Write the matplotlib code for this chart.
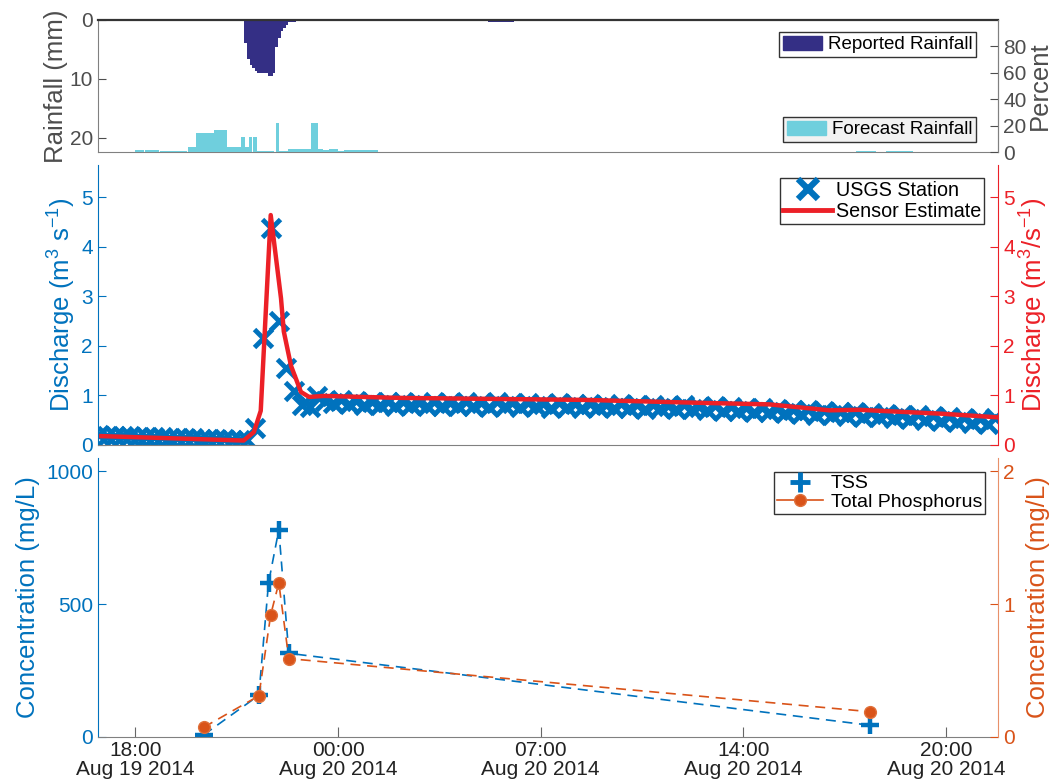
import numpy as np
import matplotlib
matplotlib.use('Agg')
import matplotlib.pyplot as plt
from matplotlib.lines import Line2D
from matplotlib.patches import Patch

plt.rcParams['font.family'] = ['Liberation Sans', 'DejaVu Sans']
plt.rcParams['mathtext.default'] = 'regular'

# time is in hours since Aug 19 2014 00:00
tick_hours = [18, 24.5, 31, 37.5, 44]
tick_times = ['18:00', '00:00', '07:00', '14:00', '20:00']
tick_dates = ['Aug 19 2014', 'Aug 20 2014', 'Aug 20 2014', 'Aug 20 2014', 'Aug 20 2014']

# reported rainfall (mm per 5 min), two events
rep_start1 = 21.41
rep_mm1 = [0.1, 3.96, 6.7, 7.65, 8.2, 8.6, 8.96, 8.96, 8.96, 8.96, 9.5, 9.5,
           8.96, 4.65, 3.0, 1.8, 1.4, 0.85, 0.4, 0.4, 0.4]
rep_start2 = 29.23
rep_mm2 = [0.2, 0.3, 0.3, 0.3, 0.3, 0.3, 0.3, 0.3, 0.3, 0.3, 0.3, 0.2]

# forecast rainfall (percent)
fc_start = [18.00, 18.32, 18.80, 18.91, 19.69, 19.93, 20.14, 20.52, 20.93, 21.22, 21.38,
            21.52, 21.65, 21.78, 21.89, 22.13, 22.50, 22.61, 22.90, 23.63, 23.85, 24.01,
            24.22, 24.49, 24.70, 41.10, 42.07]
fc_end = [18.27, 18.75, 18.91, 19.66, 19.93, 20.14, 20.52, 20.93, 21.22, 21.38, 21.52,
          21.65, 21.75, 21.89, 22.13, 22.45, 22.61, 22.90, 23.63, 23.85, 24.01, 24.22,
          24.49, 24.70, 25.78, 41.75, 42.94]
fc_pct = [1.2, 1.2, 1.0, 0.5, 3.5, 14.4, 14.5, 16.7, 4.0, 4.0, 11.2, 4.0, 11.2, 11.2,
          0.5, 0.5, 21.8, 0.5, 2.3, 21.8, 2.3, 1.8, 2.3, 1.0, 1.8, 0.6, 0.6]

# USGS discharge, 15 min samples starting 16:50
usgs_start = 16.84
usgs_q = [0.20, 0.19, 0.18, 0.19, 0.18, 0.17, 0.17, 0.16, 0.16, 0.15, 0.15, 0.14, 0.14,
          0.13, 0.13, 0.12, 0.12, 0.11, 0.11, 0.10,
          0.35, 2.15, 4.37, 2.50, 1.55, 1.08, 0.80, 0.76, 0.98,
          0.89, 0.84, 0.91, 0.82, 0.88, 0.80, 0.87, 0.81, 0.86, 0.79, 0.87, 0.80, 0.85,
          0.78, 0.86, 0.79, 0.84,
          0.79, 0.86, 0.78, 0.85, 0.77, 0.87, 0.79, 0.84, 0.76, 0.85, 0.78, 0.83, 0.75,
          0.84, 0.77, 0.82, 0.75, 0.83, 0.76, 0.81, 0.74, 0.82, 0.75, 0.80, 0.73, 0.81,
          0.74, 0.79, 0.72, 0.80,
          0.72, 0.77, 0.70, 0.78, 0.69, 0.76, 0.68, 0.75, 0.67, 0.74, 0.66, 0.73, 0.64,
          0.71, 0.63, 0.70, 0.61, 0.69, 0.60, 0.67, 0.59, 0.66, 0.57, 0.65, 0.56,
          0.63, 0.55, 0.61, 0.53, 0.60, 0.51, 0.58, 0.49, 0.56, 0.47, 0.54, 0.45, 0.52,
          0.42, 0.55]

# sensor estimate
sens_t = [16.87, 21.47, 21.80, 22.02, 22.34, 22.67, 22.76, 22.99, 23.31, 23.57, 24.05,
          26.53, 32.41, 36.18, 38.33, 40.26, 41.23, 42.20, 43.90, 45.61]
sens_q = [0.18, 0.09, 0.26, 0.69, 4.64, 2.96, 2.29, 1.60, 1.07, 0.97, 0.99,
          0.95, 0.91, 0.85, 0.82, 0.70, 0.71, 0.68, 0.63, 0.56]

# samples
tss_t = [20.19, 21.96, 22.27, 22.60, 22.92, 41.58]
tss = [8, 157, 580, 780, 315, 44]
tp_t = [20.19, 21.96, 22.34, 22.60, 22.92, 41.58]
tp = [0.073, 0.31, 0.92, 1.16, 0.59, 0.19]

blue = '#0072BD'
red = '#EC2027'
orange = '#D95319'
navy = '#342F85'
cyan = '#6FCFDD'
gray = '#4D4D4D'
xmin, xmax = 16.79, 45.68

W, H = 1052, 780
L, AW = 97.7 / W, 900.6 / W
fig = plt.figure(figsize=(W / 100, H / 100), dpi=100)

# ---- rainfall panel
ax1 = fig.add_axes([L, 1 - 152 / H, AW, 132 / H])
t1 = rep_start1 + np.arange(len(rep_mm1)) / 12
t2 = rep_start2 + np.arange(len(rep_mm2)) / 12
ax1.bar(t1, rep_mm1, width=1 / 12, align='edge', color=navy, linewidth=0)
ax1.bar(t2, rep_mm2, width=1 / 12, align='edge', color=navy, linewidth=0)
ax1.set_xlim(xmin, xmax)
ax1.set_ylim(22.4, 0)
ax1.set_yticks([0, 10, 20])
ax1.set_xticks([])
ax1.tick_params(axis='y', direction='in', length=6, colors=gray, labelsize=15)
ax1.set_ylabel('Rainfall (mm)', color=gray, fontsize=18.5, labelpad=1)
for s in ['left', 'right', 'bottom']:
    ax1.spines[s].set_color('#808080')
ax1.spines['top'].set_color('#333333')
ax1.spines['top'].set_linewidth(1.6)

ax1r = ax1.twinx()
ax1r.bar(fc_start, fc_pct, width=np.array(fc_end) - np.array(fc_start), align='edge',
         color=cyan, linewidth=0)
ax1r.set_ylim(0, 100)
ax1r.set_yticks([0, 20, 40, 60, 80])
ax1r.tick_params(axis='y', direction='in', length=6, colors=gray, labelsize=15)
ax1r.set_ylabel('Percent', color=gray, fontsize=18.5, labelpad=1)
for s in ax1r.spines.values():
    s.set_visible(False)
ax1r.spines['right'].set_visible(True)
ax1r.spines['right'].set_color('#808080')

leg_kw = dict(loc='upper right', fontsize=13.5, fancybox=False, framealpha=1,
              edgecolor='#333333', borderaxespad=0, borderpad=0.2, handletextpad=0.3,
              handlelength=2.1, handleheight=0.8)
lg1 = ax1r.legend([Patch(color=navy)], ['Reported Rainfall'],
                  bbox_to_anchor=(0.9756, 0.909), **leg_kw)
lg1.get_frame().set_linewidth(1)
ax1r.add_artist(lg1)
lg2 = ax1r.legend([Patch(color=cyan)], ['Forecast Rainfall'],
                  bbox_to_anchor=(0.9756, 0.265), **leg_kw)
lg2.get_frame().set_facecolor('#F2F2F2')
lg2.get_frame().set_linewidth(1)

# ---- discharge panel
ax2 = fig.add_axes([L, 1 - 445 / H, AW, 280 / H])
usgs_t = usgs_start + 0.25 * np.arange(len(usgs_q))
ax2.plot(usgs_t, usgs_q, linestyle='none', marker='x', ms=13, mew=3.5, color=blue,
         label='USGS Station')
ax2.plot(sens_t, sens_q, color=red, lw=3.2, label='Sensor Estimate')
ax2.set_xlim(xmin, xmax)
ax2.set_ylim(0, 5.65)
ax2.set_yticks([0, 1, 2, 3, 4, 5])
ax2.set_xticks([])
ax2.tick_params(axis='y', direction='in', length=6, colors=blue, labelsize=15)
ax2.set_ylabel('Discharge (m$^3$ s$^{-1}$)', color=blue, fontsize=18.5, labelpad=2)
ax2.spines['top'].set_visible(False)
ax2.spines['left'].set_color(blue)
ax2.spines['bottom'].set_color('#808080')
ax2.spines['right'].set_visible(False)

ax2r = ax2.twinx()
ax2r.set_ylim(0, 5.65)
ax2r.set_yticks([0, 1, 2, 3, 4, 5])
ax2r.tick_params(axis='y', direction='in', length=6, colors=red, labelsize=15)
ax2r.set_ylabel('Discharge (m$^3$/s$^{-1}$)', color=red, fontsize=18.5, labelpad=2)
for s in ['left', 'top', 'bottom']:
    ax2r.spines[s].set_visible(False)
ax2r.spines['right'].set_color(red)

h2 = [Line2D([], [], linestyle='none', marker='x', ms=15, mew=4.5, color=blue),
      Line2D([], [], color=red, lw=3.5)]
lg3 = ax2r.legend(h2, ['USGS Station', 'Sensor Estimate'], loc='upper right',
                  bbox_to_anchor=(0.9845, 0.9536), fontsize=14.2, fancybox=False,
                  framealpha=1, edgecolor='#333333', borderaxespad=0, borderpad=0.15,
                  handletextpad=0.2, handlelength=2.5, labelspacing=0.1)
lg3.get_frame().set_linewidth(1)

# ---- concentration panel
ax3 = fig.add_axes([L, 1 - 737 / H, AW, 279 / H])
ax3.plot(tss_t, tss, linestyle='--', lw=1.2, dashes=(6, 4), color=blue, marker='+',
         ms=13, mew=3.2)
ax3.set_xlim(xmin, xmax)
ax3.set_ylim(0, 1050)
ax3.set_yticks([0, 500, 1000])
ax3.xaxis.remove_overlapping_locs = False
ax3.set_xticks(tick_hours)
ax3.set_xticklabels(tick_times, fontsize=15, color='#222222')
ax3.set_xticks(tick_hours, minor=True)
ax3.set_xticklabels(tick_dates, minor=True, fontsize=15, color='#222222')
ax3.tick_params(axis='x', which='major', direction='in', length=7, color='#666666', pad=3)
ax3.tick_params(axis='x', which='minor', length=0, pad=16.5)
ax3.tick_params(axis='y', direction='in', length=6, colors=blue, labelsize=15)
ax3.set_ylabel('Concentration (mg/L)', color=blue, fontsize=18.5)
ax3.spines['top'].set_visible(False)
ax3.spines['right'].set_visible(False)
ax3.spines['left'].set_color(blue)
ax3.spines['bottom'].set_color('#808080')

ax3r = ax3.twinx()
ax3r.plot(tp_t, tp, linestyle='--', lw=1.2, dashes=(6, 4), color=orange, marker='o',
          ms=8.5, mfc=orange, mec='#E0703A')
ax3r.set_ylim(0, 2.1)
ax3r.set_yticks([0, 1, 2])
ax3r.tick_params(axis='y', direction='in', length=6, colors=orange, labelsize=15)
ax3r.set_ylabel('Concentration (mg/L)', color=orange, fontsize=18.5, labelpad=8)
for s in ['left', 'top', 'bottom']:
    ax3r.spines[s].set_visible(False)
ax3r.spines['right'].set_color('#E8906A')

h3 = [Line2D([], [], linestyle='none', marker='+', ms=14, mew=3.5, color=blue),
      Line2D([], [], color=orange, lw=1.2, marker='o', ms=8.5, mfc=orange, mec='#E0703A')]
lg4 = ax3r.legend(h3, ['TSS', 'Total Phosphorus'], loc='upper right',
                  bbox_to_anchor=(0.9856, 0.95), fontsize=14, fancybox=False,
                  framealpha=1, edgecolor='#333333', borderaxespad=0, borderpad=0.15,
                  handletextpad=0.4, handlelength=2.4, labelspacing=0.05)
lg4.get_frame().set_linewidth(1)

fig.savefig('out.png', dpi=100)
